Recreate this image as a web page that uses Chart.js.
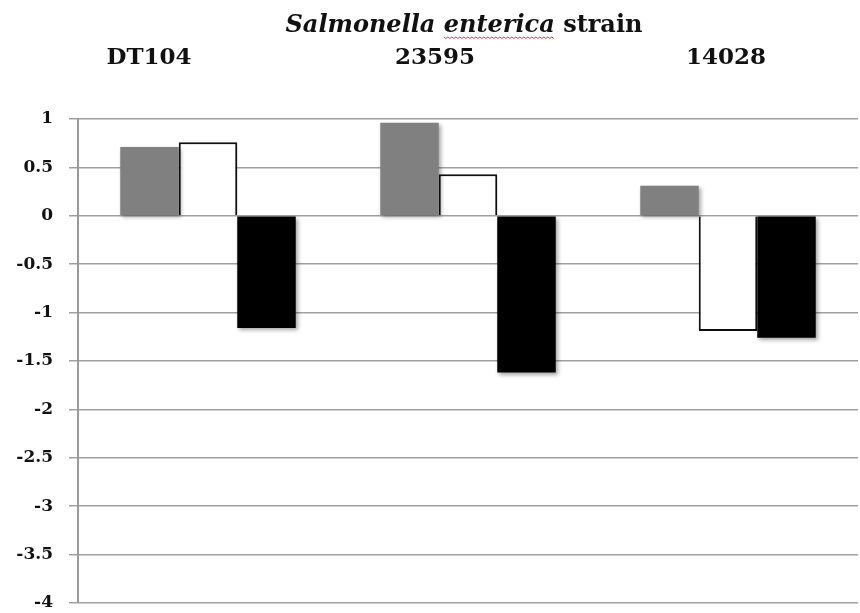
<!DOCTYPE html>
<html>
<head>
<meta charset="utf-8">
<script src="https://cdn.jsdelivr.net/npm/chart.js@4.4.1/dist/chart.umd.min.js"></script>
<style>
  html, body { margin: 0; padding: 0; background: #fff; }
  #wrap { width: 860px; height: 613px; }
</style>
</head>
<body>
<div id="wrap"><canvas id="strainChart"></canvas></div>
<script>
// Data
const strains = ['DT104', '23595', '14028'];
const greyValues = [0.71, 0.96, 0.31];
const whiteValues = [0.76, 0.43, -1.19];
const blackValues = [-1.16, -1.62, -1.26];
const yTicks = [1, 0.5, 0, -0.5, -1, -1.5, -2, -2.5, -3, -3.5, -4];

const serif = '"DejaVu Serif", serif';

// Title and strain names drawn above the plot (italic species name)
const headerPlugin = {
    id: 'header',
    afterDraw(chart) {
        const ctx = chart.ctx;
        ctx.save();
        ctx.fillStyle = '#111';
        ctx.textBaseline = 'alphabetic';

        // title: "Salmonella enterica" italic + " strain" upright
        const it = 'italic bold 24px ' + serif;
        const nm = 'bold 24px ' + serif;
        const part1 = 'Salmonella ';
        const part2 = 'enterica';
        const part3 = ' strain';
        ctx.font = it;
        const w1 = ctx.measureText(part1).width;
        const w2 = ctx.measureText(part2).width;
        ctx.font = nm;
        const w3 = ctx.measureText(part3).width;
        let x = 464 - (w1 + w2 + w3) / 2;
        const y = 32;
        ctx.font = it;
        ctx.fillText(part1, x, y);
        ctx.fillText(part2, x + w1, y);
        // red wavy spell-check underline
        ctx.strokeStyle = '#e03030';
        ctx.lineWidth = 1;
        ctx.beginPath();
        for (let i = 0; i <= w2; i += 2) {
            const yy = y + 5 + ((i / 2) % 2 ? 1.5 : 0);
            if (i === 0) ctx.moveTo(x + w1 + i, yy); else ctx.lineTo(x + w1 + i, yy);
        }
        ctx.stroke();
        ctx.font = nm;
        ctx.fillText(part3, x + w1 + w2, y);

        // strain labels
        ctx.font = 'bold 23px ' + serif;
        ctx.textAlign = 'center';
        const labelX = [149, 435, 726];
        strains.forEach((s, i) => ctx.fillText(s, labelX[i], 64));
        ctx.restore();
    }
};

// soft drop shadow under the bars
const shadowPlugin = {
    id: 'barShadow',
    beforeDatasetsDraw(chart) {
        const ctx = chart.ctx;
        ctx.save();
        ctx.shadowColor = 'rgba(0,0,0,0.35)';
        ctx.shadowBlur = 4;
        ctx.shadowOffsetX = 2;
        ctx.shadowOffsetY = 2;
    },
    afterDatasetsDraw(chart) {
        chart.ctx.restore();
    }
};

const ctx = document.getElementById('strainChart').getContext('2d');
const strainChart = new Chart(ctx, {
    type: 'bar',
    data: {
        labels: strains,
        datasets: [{
            label: 'Series 1',
            data: greyValues,
            backgroundColor: '#808080',
            borderWidth: 0,
        }, {
            label: 'Series 2',
            data: whiteValues,
            backgroundColor: '#ffffff',
            borderColor: '#111111',
            borderWidth: 2,
        }, {
            label: 'Series 3',
            data: blackValues,
            backgroundColor: '#000000',
            borderWidth: 0,
        }]
    },
    options: {
        responsive: true,
        maintainAspectRatio: false,
        animation: false,
        layout: {
            padding: { top: 119, right: 2, bottom: 10, left: 0 }
        },
        datasets: {
            bar: {
                categoryPercentage: 0.675,
                barPercentage: 1.0,
            }
        },
        scales: {
            x: {
                display: false,
            },
            y: {
                min: -4,
                max: 1,
                afterFit(scale) {
                    scale.width = 78;
                    scale.paddingTop = 0;
                    scale.paddingBottom = 0;
                },
                afterBuildTicks(scale) {
                    scale.ticks = yTicks.map(v => ({ value: v }));
                },
                border: { display: true, color: '#9a9a9a', width: 2 },
                grid: {
                    color: '#a0a0a0',
                    lineWidth: 1.5,
                    tickLength: 9,
                },
                ticks: {
                    color: '#111',
                    padding: 16,
                    font: { family: serif, size: 17, weight: 'bold' },
                    callback: v => String(v),
                }
            }
        },
        plugins: {
            legend: { display: false },
            tooltip: { enabled: false },
        }
    },
    plugins: [shadowPlugin, headerPlugin]
});
</script>
</body>
</html>
